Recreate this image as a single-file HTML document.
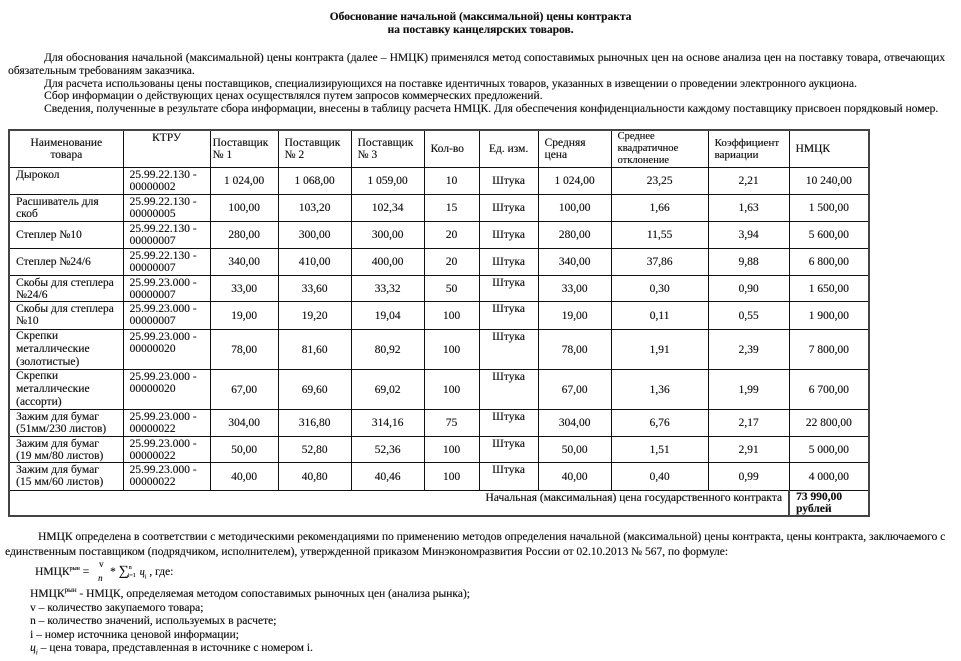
<!DOCTYPE html>
<html><head><meta charset="utf-8">
<style>
*{margin:0;padding:0;box-sizing:border-box}
html,body{width:961px;height:661px;background:#fff;overflow:hidden}
body{position:relative;font-family:"Liberation Serif","Noto Serif CJK SC",serif;color:#111;font-size:11.5px;text-shadow:0.3px 0 0 rgba(0,0,0,0.55)}
.abs{position:absolute;white-space:nowrap}
.just{text-align:justify;text-align-last:justify}
table{position:absolute;left:8px;top:129px;width:861px;border-collapse:collapse;table-layout:fixed;border:2px solid #444}
td{border:1px solid #111;font-size:11.5px;line-height:12px;white-space:nowrap;overflow:hidden;vertical-align:middle;text-align:center;padding:0}
td.n{text-align:left;vertical-align:top;padding:1px 0 0 6px}
td.k{text-align:left;vertical-align:top;padding:1px 0 0 6px}
td.t{vertical-align:top;padding-top:1px}
td.hl{text-align:left;padding-left:6px}
td.n3{line-height:13px;padding-top:0}
sup,sub{line-height:0}
</style></head><body>

<div class="abs" style="left:0;width:961px;top:11px;text-align:center;font-weight:bold;font-size:11.5px;line-height:13px">Обоснование начальной (максимальной) цены контракта<br>на поставку канцелярских товаров.</div>

<div class="abs just" style="left:44px;width:901px;top:52px;line-height:13px">Для обоснования начальной (максимальной) цены контракта (далее – НМЦК) применялся метод сопоставимых рыночных цен на основе анализа цен на поставку товара, отвечающих</div>
<div class="abs" style="left:8px;top:65px;line-height:13px">обязательным требованиям заказчика.</div>
<div class="abs" style="left:44px;top:78px;line-height:13px">Для расчета использованы цены поставщиков, специализирующихся на поставке идентичных товаров, указанных в извещении о проведении электронного аукциона.</div>
<div class="abs" style="left:44px;top:90px;line-height:13px">Сбор информации о действующих ценах осуществлялся путем запросов коммерческих предложений.</div>
<div class="abs" style="left:44px;top:103px;line-height:13px">Сведения, полученные в результате сбора информации, внесены в таблицу расчета НМЦК. Для обеспечения конфиденциальности каждому поставщику присвоен порядковый номер.</div>

<table>
<colgroup>
<col style="width:114px"><col style="width:87px"><col style="width:68px"><col style="width:73px"><col style="width:73px"><col style="width:55px"><col style="width:59px"><col style="width:73px"><col style="width:97px"><col style="width:81px"><col style="width:80px">
</colgroup>
<tr style="height:37px">
<td>Наименование<br>товара</td>
<td class="t">КТРУ</td>
<td class="hl" style="padding-left:2px">Поставщик<br>№ 1</td>
<td class="hl">Поставщик<br>№ 2</td>
<td class="hl">Поставщик<br>№ 3</td>
<td class="hl">Кол-во</td>
<td>Ед. изм.</td>
<td class="hl">Средняя<br>цена</td>
<td class="hl" style="font-size:10.5px;line-height:12px">Среднее<br>квадратичное<br>отклонение</td>
<td class="hl" style="font-size:11px">Коэффициент<br>вариации</td>
<td class="hl">НМЦК</td>
</tr>
<tr style="height:27px"><td class="n">Дырокол</td><td class="k">25.99.22.130 -<br>00000002</td><td>1 024,00</td><td>1 068,00</td><td>1 059,00</td><td>10</td><td>Штука</td><td>1 024,00</td><td>23,25</td><td>2,21</td><td>10 240,00</td></tr>
<tr style="height:27px"><td class="n">Расшиватель для<br>скоб</td><td class="k">25.99.22.130 -<br>00000005</td><td>100,00</td><td>103,20</td><td>102,34</td><td>15</td><td>Штука</td><td>100,00</td><td>1,66</td><td>1,63</td><td>1 500,00</td></tr>
<tr style="height:27px"><td class="n" style="vertical-align:middle;padding-top:0">Степлер №10</td><td class="k">25.99.22.130 -<br>00000007</td><td>280,00</td><td>300,00</td><td>300,00</td><td>20</td><td>Штука</td><td>280,00</td><td>11,55</td><td>3,94</td><td>5 600,00</td></tr>
<tr style="height:27px"><td class="n" style="vertical-align:middle;padding-top:0">Степлер №24/6</td><td class="k">25.99.22.130 -<br>00000007</td><td>340,00</td><td>410,00</td><td>400,00</td><td>20</td><td>Штука</td><td>340,00</td><td>37,86</td><td>9,88</td><td>6 800,00</td></tr>
<tr style="height:26px"><td class="n">Скобы для степлера<br>№24/6</td><td class="k">25.99.23.000 -<br>00000007</td><td>33,00</td><td>33,60</td><td>33,32</td><td>50</td><td class="t">Штука</td><td>33,00</td><td>0,30</td><td>0,90</td><td>1 650,00</td></tr>
<tr style="height:28px"><td class="n">Скобы для степлера<br>№10</td><td class="k">25.99.23.000 -<br>00000007</td><td>19,00</td><td>19,20</td><td>19,04</td><td>100</td><td class="t">Штука</td><td>19,00</td><td>0,11</td><td>0,55</td><td>1 900,00</td></tr>
<tr style="height:40px"><td class="n n3">Скрепки<br>металлические<br>(золотистые)</td><td class="k">25.99.23.000 -<br>00000020</td><td>78,00</td><td>81,60</td><td>80,92</td><td>100</td><td class="t">Штука</td><td>78,00</td><td>1,91</td><td>2,39</td><td>7 800,00</td></tr>
<tr style="height:40px"><td class="n n3">Скрепки<br>металлические<br>(ассорти)</td><td class="k">25.99.23.000 -<br>00000020</td><td>67,00</td><td>69,60</td><td>69,02</td><td>100</td><td class="t">Штука</td><td>67,00</td><td>1,36</td><td>1,99</td><td>6 700,00</td></tr>
<tr style="height:27px"><td class="n">Зажим для бумаг<br>(51мм/230 листов)</td><td class="k">25.99.23.000 -<br>00000022</td><td>304,00</td><td>316,80</td><td>314,16</td><td>75</td><td class="t">Штука</td><td>304,00</td><td>6,76</td><td>2,17</td><td>22 800,00</td></tr>
<tr style="height:26px"><td class="n">Зажим для бумаг<br>(19 мм/80 листов)</td><td class="k">25.99.23.000 -<br>00000022</td><td>50,00</td><td>52,80</td><td>52,36</td><td>100</td><td class="t">Штука</td><td>50,00</td><td>1,51</td><td>2,91</td><td>5 000,00</td></tr>
<tr style="height:28px"><td class="n">Зажим для бумаг<br>(15 мм/60 листов)</td><td class="k">25.99.23.000 -<br>00000022</td><td>40,00</td><td>40,80</td><td>40,46</td><td>100</td><td class="t">Штука</td><td>40,00</td><td>0,40</td><td>0,99</td><td>4 000,00</td></tr>
<tr style="height:24px"><td colspan="10" style="text-align:right;vertical-align:top;padding:1px 6px 0 0;border-right:2px solid #444">Начальная (максимальная) цена государственного контракта</td><td class="hl" style="vertical-align:top;font-weight:bold;line-height:12px;padding-top:0">73 990,00<br>рублей</td></tr>
</table>

<div class="abs just" style="left:38px;width:907px;top:530px;line-height:14px">НМЦК определена в соответствии с методическими рекомендациями по применению методов определения начальной (максимальной) цены контракта, цены контракта, заключаемого с</div>
<div class="abs" style="left:5px;top:545px;line-height:14px">единственным поставщиком (подрядчиком, исполнителем), утвержденной приказом Минэкономразвития России от 02.10.2013 № 567, по формуле:</div>

<div class="abs" style="left:35px;top:565px;line-height:14px">НМЦК<sup style="font-size:6px">рын</sup> =</div>
<div class="abs" style="left:99px;top:559px;font-size:9px;line-height:10px;text-align:center">v</div>
<div class="abs" style="left:98px;top:573px;font-size:9px;line-height:10px;font-style:italic">n</div>
<div class="abs" style="left:110px;top:565px;line-height:14px">*&nbsp;<span style="font-size:14px">∑</span><span style="font-size:6px;position:relative;top:-6px">n</span><span style="font-size:6px;position:relative;top:2px;left:-4px">i=1</span><span style="font-style:italic;font-size:10px">ц</span><sub style="font-size:6px">i</sub> , где:</div>

<div class="abs" style="left:30px;top:588px;line-height:13.5px">НМЦК<sup style="font-size:7px">рын</sup> - НМЦК, определяемая методом сопоставимых рыночных цен (анализа рынка);<br>v – количество закупаемого товара;<br>n – количество значений, используемых в расчете;<br>i – номер источника ценовой информации;<br><span style="font-style:italic">ц</span><sub style="font-size:7px;font-style:italic">i</sub> – цена товара, представленная в источнике с номером i.</div>

</body></html>
